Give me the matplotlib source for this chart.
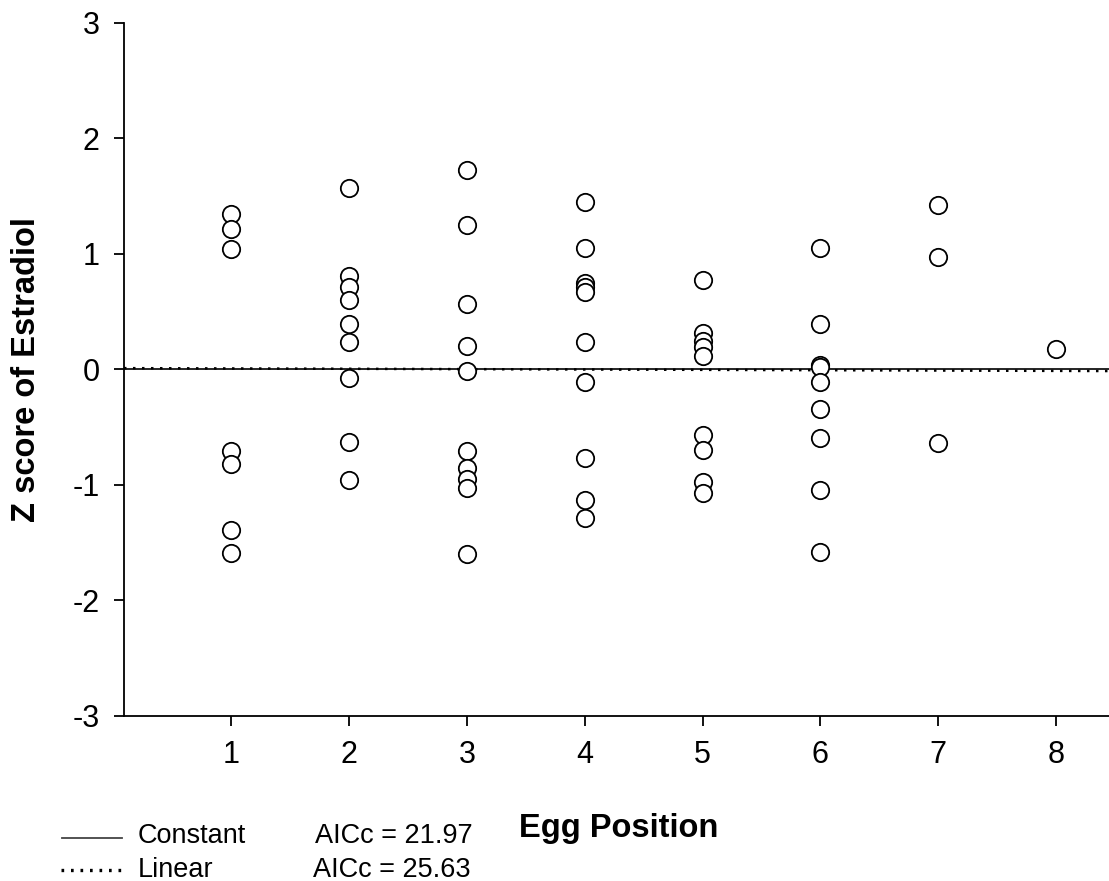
import numpy as np
import matplotlib.pyplot as plt
from matplotlib.lines import Line2D

plt.rcParams['font.family'] = ['Liberation Sans', 'DejaVu Sans']
plt.rcParams['axes.unicode_minus'] = False

# Z scores of estradiol per egg position
pos1 = [1.35, 1.22, 1.045, -0.71, -0.82, -1.39, -1.59]
pos2 = [1.57, 0.81, 0.71, 0.60, 0.39, 0.235, -0.075, -0.63, -0.96]
pos3 = [1.73, 1.255, 0.57, 0.205, -0.01, -0.71, -0.85, -0.95, -1.025, -1.60]
pos4 = [1.45, 1.05, 0.75, 0.71, 0.67, 0.24, -0.11, -0.77, -1.13, -1.29]
pos5 = [0.775, 0.315, 0.25, 0.195, 0.12, -0.57, -0.70, -0.97, -1.07]
pos6 = [1.05, 0.395, 0.04, 0.02, -0.105, -0.345, -0.595, -1.04, -1.58]
pos7 = [1.42, 0.97, -0.64]
pos8 = [0.175]
groups = [pos1, pos2, pos3, pos4, pos5, pos6, pos7, pos8]

# fitted models
const_level = 0.0
lin_intercept, lin_slope = 0.012, -0.003
aicc_constant = 21.97
aicc_linear = 25.63

fig = plt.figure(figsize=(11.09, 8.81), dpi=100)
ax = fig.add_axes([0.1118, 0.1873, 0.8882, 0.7866])

xl = np.array([0.09, 8.45])
ax.plot(xl, [const_level, const_level], color='black', lw=1.2, zorder=2)
ax.plot(xl, lin_intercept + lin_slope * xl, color='black', lw=1.8,
        linestyle=(0, (1, 2.6)), zorder=2)

for i, vals in enumerate(groups):
    ax.plot([i + 1] * len(vals), vals, 'o', ms=12.5, mfc='white', mec='black',
            mew=1.3, linestyle='none', zorder=3)

ax.set_xlim(xl)
ax.set_ylim(-3, 3)
ax.set_xticks(range(1, 9))
ax.set_yticks(range(-3, 4))
ax.spines['top'].set_visible(False)
ax.spines['right'].set_visible(False)
ax.spines['left'].set_linewidth(1.3)
ax.spines['bottom'].set_linewidth(1.3)
ax.tick_params(direction='out', length=7.5, width=1.3, labelsize=22, pad=10)

fig.text(0.0243, 0.58, 'Z score of Estradiol', fontsize=23.5, fontweight='bold',
         rotation=90, ha='center', va='center')
fig.text(0.558, 0.050, 'Egg Position', fontsize=23.5, fontweight='bold',
         ha='center', va='baseline')

# legend
fig.add_artist(Line2D([0.056, 0.110], [0.0488, 0.0488], color='#444444', lw=1.3))
fig.add_artist(Line2D([0.055, 0.111], [0.0125, 0.0125], color='black', lw=2.4,
                      linestyle=(0, (0.8, 2.05))))
fig.text(0.1245, 0.0431, 'Constant', fontsize=19.5, va='baseline')
fig.text(0.1245, 0.0045, 'Linear', fontsize=19.5, va='baseline')
fig.text(0.284, 0.0431, f'AICc = {aicc_constant:.2f}', fontsize=19.5, va='baseline')
fig.text(0.282, 0.0045, f'AICc = {aicc_linear:.2f}', fontsize=19.5, va='baseline')

plt.savefig('out.png', dpi=100)
